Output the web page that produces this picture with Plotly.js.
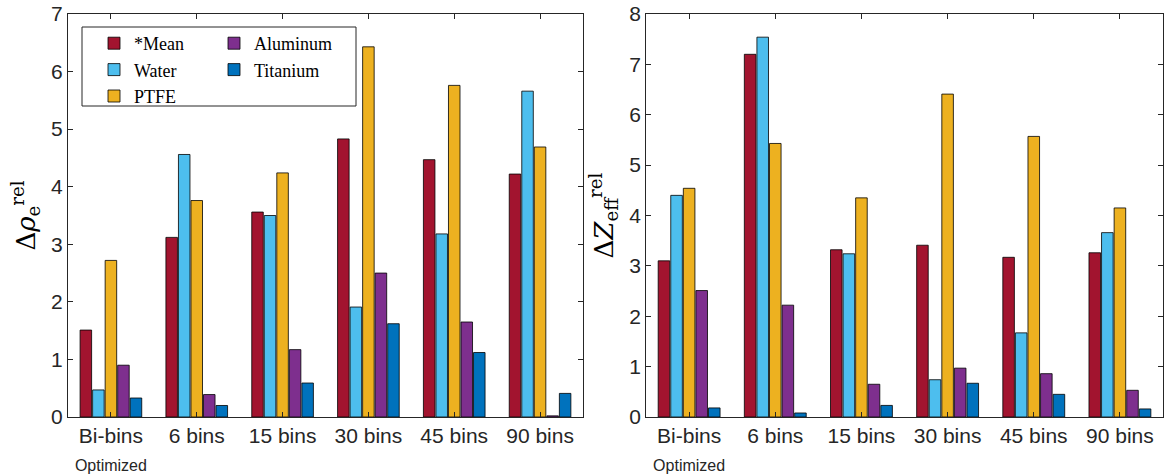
<!DOCTYPE html>
<html><head><meta charset="utf-8">
<script src="https://cdn.plot.ly/plotly-3.0.1.min.js"></script>
<style>body{margin:0;padding:0;background:#fff}#plot{width:1167px;height:474px}</style>
</head><body><div id="plot"></div>
<script>
const categories = ["Bi-bins<br><span style='font-size:16px'>Optimized</span>", "6 bins", "15 bins", "30 bins", "45 bins", "90 bins"];
const seriesNames = ["*Mean", "Water", "PTFE", "Aluminum", "Titanium"];
const seriesColors = ["#A2142F", "#4DBEEE", "#EDB120", "#7E2F8E", "#0072BD"];
// Left panel: Δρ_e^rel
const rhoMean     = [1.51, 3.12, 3.56, 4.83, 4.47, 4.22];
const rhoWater    = [0.47, 4.56, 3.50, 1.91, 3.18, 5.66];
const rhoPTFE     = [2.72, 3.76, 4.24, 6.43, 5.76, 4.69];
const rhoAluminum = [0.90, 0.39, 1.17, 2.50, 1.65, 0.02];
const rhoTitanium = [0.33, 0.20, 0.59, 1.62, 1.12, 0.41];
// Right panel: ΔZ_eff^rel
const zMean     = [3.10, 7.20, 3.32, 3.41, 3.17, 3.26];
const zWater    = [4.40, 7.54, 3.24, 0.74, 1.67, 3.66];
const zPTFE     = [4.54, 5.43, 4.35, 6.41, 5.57, 4.15];
const zAluminum = [2.51, 2.22, 0.65, 0.97, 0.86, 0.53];
const zTitanium = [0.18, 0.08, 0.23, 0.67, 0.45, 0.16];

const rhoSeries = [rhoMean, rhoWater, rhoPTFE, rhoAluminum, rhoTitanium];
const zSeries = [zMean, zWater, zPTFE, zAluminum, zTitanium];
const legendOf = ["legend", "legend", "legend", "legend2", "legend2"];

const xIdx = categories.map((_, i) => i + 1);
const traces = [];
rhoSeries.forEach((vals, k) => {
  traces.push({type: "bar", x: xIdx, y: vals, name: seriesNames[k], xaxis: "x", yaxis: "y",
    marker: {color: seriesColors[k], line: {color: "#000", width: 0.8}},
    legend: legendOf[k], showlegend: true, hoverinfo: "y"});
});
zSeries.forEach((vals, k) => {
  traces.push({type: "bar", x: xIdx, y: vals, name: seriesNames[k], xaxis: "x2", yaxis: "y2",
    marker: {color: seriesColors[k], line: {color: "#000", width: 0.8}},
    legend: legendOf[k], showlegend: false, hoverinfo: "y"});
});

const axCol = "#262626";
const tickFont = {family: "Liberation Sans, Arial, sans-serif", size: 21, color: axCol};
function xAxis(domain, anchor) {
  return {domain: domain, anchor: anchor, range: [0.5, 6.5], tickmode: "array", tickvals: xIdx, ticktext: categories,
    ticks: "inside", ticklen: 5, tickcolor: axCol, mirror: "ticks", showline: true, linecolor: axCol, linewidth: 1,
    showgrid: false, zeroline: false, tickfont: tickFont, fixedrange: true};
}
function yAxis(range, dtick, anchor, title) {
  return {anchor: anchor, range: range, dtick: dtick, tick0: 0, ticks: "inside", ticklen: 5, tickcolor: axCol,
    mirror: "ticks", showline: true, linecolor: axCol, linewidth: 1, showgrid: false, zeroline: false,
    tickfont: tickFont, fixedrange: true,
    title: {text: title, standoff: 8, font: {family: "DejaVu Serif, Liberation Serif, serif", size: 26, color: "#000"}}};
}

const W = 1095, H = 403;
const legFont = {family: "Liberation Serif, DejaVu Serif, serif", size: 18, color: "#000"};
const layout = {
  width: 1167, height: 474,
  margin: {l: 68, r: 4, t: 14, b: 57},
  paper_bgcolor: "#fff", plot_bgcolor: "#fff",
  barmode: "group", bargap: 0.27, bargroupgap: 0.08,
  xaxis: xAxis([0, 0.4703], "y"),
  yaxis: yAxis([0, 7], 1, "x", "Δ<i>ρ</i><sub>e</sub><sup>rel</sup>"),
  xaxis2: xAxis([0.5279, 1], "y2"),
  yaxis2: yAxis([0, 8], 1, "x2", "Δ<i>Z</i><sub>eff</sub><sup>rel</sup>"),
  legend: {x: (94 - 68) / W, y: 1 - (25 - 14) / H, xanchor: "left", yanchor: "top", bgcolor: "rgba(0,0,0,0)",
    borderwidth: 0, font: legFont, tracegroupgap: 0, itemwidth: 30, traceorder: "normal"},
  legend2: {x: (214 - 68) / W, y: 1 - (25 - 14) / H, xanchor: "left", yanchor: "top", bgcolor: "rgba(0,0,0,0)",
    borderwidth: 0, font: legFont, tracegroupgap: 0, itemwidth: 30, traceorder: "normal"},
  shapes: [{type: "rect", xref: "paper", yref: "paper", x0: (82 - 68) / W, x1: (356 - 68) / W,
    y0: 1 - (106 - 14) / H, y1: 1 - (27 - 14) / H, line: {color: axCol, width: 1}, fillcolor: "#fff", layer: "above"}]
};

Plotly.newPlot("plot", traces, layout, {displayModeBar: false, staticPlot: true});
</script></body></html>
